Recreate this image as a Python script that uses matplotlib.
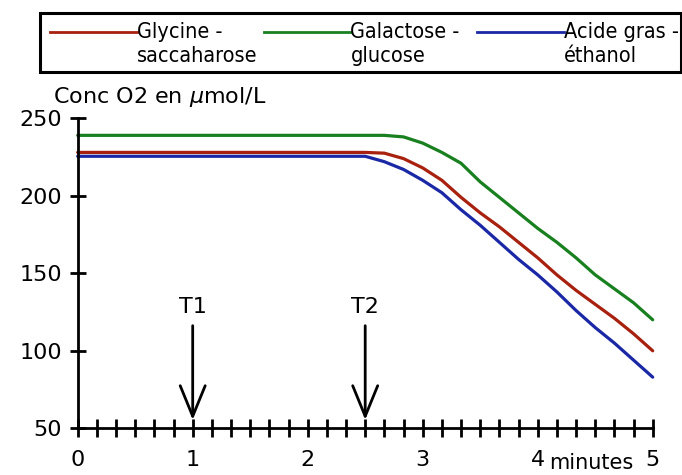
import numpy as np
import matplotlib
matplotlib.use('Agg')
import matplotlib.pyplot as plt
from matplotlib.patches import Rectangle
from matplotlib.lines import Line2D

# --- Données (lecture du graphique, un point toutes les 10 s) ---
temps = np.arange(31) / 6.0  # minutes
glycine = [228] * 16 + [227.5, 224, 218, 210, 199, 189, 180, 170, 160, 149, 139, 130, 121, 111, 100]
galactose = [239] * 17 + [238, 234, 228, 221, 209, 199, 189, 179, 170, 160, 149, 140, 131, 120]
acide_gras = [225.5] * 16 + [222, 217, 210, 202, 191, 181, 170, 159, 149, 138, 126, 115, 105, 94, 83]

series = [
    ('Glycine -', 'saccaharose', glycine, '#a8200e'),
    ('Galactose -', 'glucose', galactose, '#18801f'),
    ('Acide gras -', 'éthanol', acide_gras, '#1a28a6'),
]

repere_x = [1, 2.5]
repere_txt = ['T1', 'T2']
y_ticks = [50, 100, 150, 200, 250]

plt.rcParams['font.family'] = ['DejaVu Sans']
W, H = 682, 475
fig = plt.figure(figsize=(W / 100, H / 100), dpi=100)
ax = fig.add_axes([77.7 / W, 1 - 428.3 / H, 575 / W, 310 / H])

for _, _, vals, col in series:
    ax.plot(temps, vals, color=col, lw=2.3, clip_on=False, solid_capstyle='round')

ax.set_xlim(0, 5)
ax.set_ylim(50, 250)
for s in ['top', 'right']:
    ax.spines[s].set_visible(False)
for s in ['left', 'bottom']:
    ax.spines[s].set_linewidth(2)

xt = np.arange(31) / 6.0
ax.set_xticks(xt)
ax.set_xticklabels([str(int(round(v))) if i % 6 == 0 else '' for i, v in enumerate(xt)])
ax.set_yticks(y_ticks)
ax.tick_params(axis='x', direction='inout', length=13, width=2, labelsize=16, pad=9)
ax.tick_params(axis='y', direction='inout', length=11, width=2, labelsize=16, pad=6)

# flèches T1 / T2
for xv, lab in zip(repere_x, repere_txt):
    ax.annotate('', xy=(xv, 55.4), xytext=(xv, 116.2),
                arrowprops=dict(arrowstyle='->,head_length=1.1,head_width=0.45',
                                lw=2, color='black', mutation_scale=20,
                                shrinkA=0, shrinkB=0))
    ax.text(xv, 124.6, lab, ha='center', va='baseline', fontsize=16)

fig.text(53 / W, 1 - 103 / H, 'Conc O2 en $\\mu$mol/L', fontsize=16, va='baseline')
fig.text(591 / W, 1 - 469 / H, 'minutes', fontsize=15, ha='center', va='baseline')

# légende dessinée à la main
fig.patches.append(Rectangle((40 / W, 1 - 72 / H), 641 / W, 59 / H, transform=fig.transFigure,
                             fill=False, lw=2.2, edgecolor='black'))
leg_x = [50, 263.5, 477]
for (l1, l2, _, col), x0 in zip(series, leg_x):
    fig.lines.append(Line2D([x0 / W, (x0 + 87) / W], [1 - 31.7 / H] * 2,
                            transform=fig.transFigure, color=col, lw=2))
    fig.text((x0 + 87) / W, 1 - 37.5 / H, l1, fontsize=15.5, va='baseline',
             family='DejaVu Sans', stretch='condensed')
    fig.text((x0 + 87) / W, 1 - 61.7 / H, l2, fontsize=15.5, va='baseline',
             family='DejaVu Sans', stretch='condensed')

plt.savefig('out.png', dpi=100, facecolor='white')
